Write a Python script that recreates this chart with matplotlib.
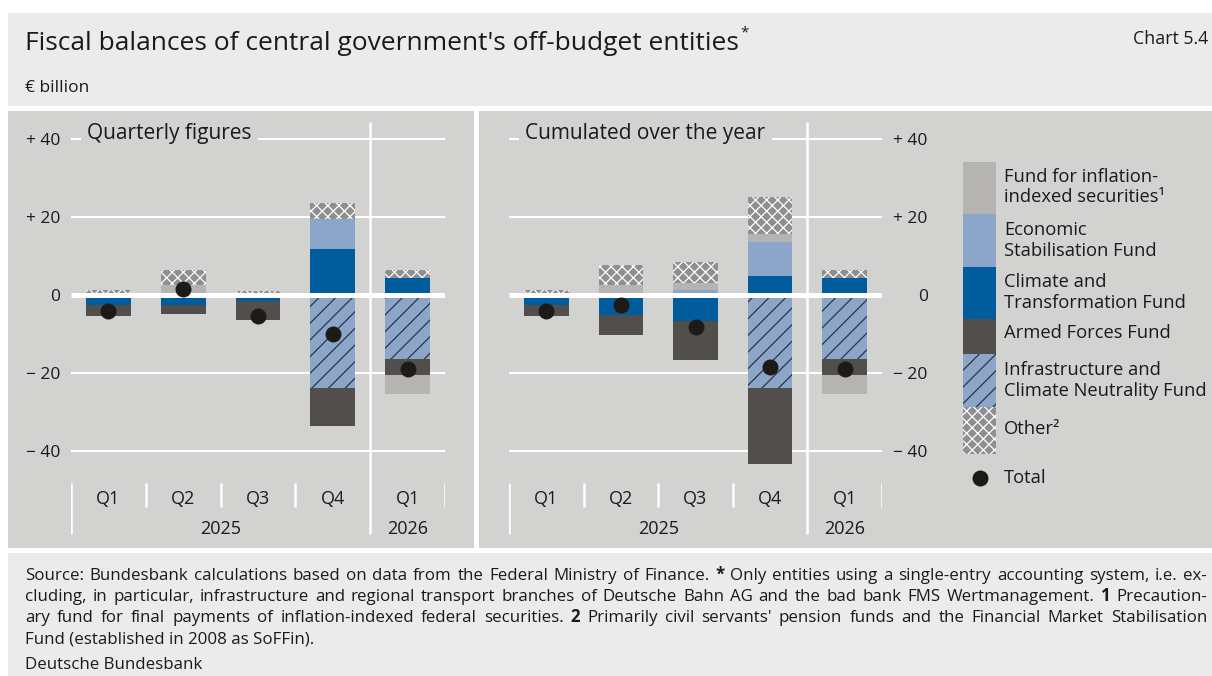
import matplotlib
matplotlib.use("Agg")
import matplotlib.pyplot as plt
from matplotlib.patches import Rectangle
import numpy as np

plt.rcParams['font.family'] = ['Open Sans', 'DejaVu Sans']
plt.rcParams['hatch.linewidth'] = 0.9

# ---------------------------------------------------------------- data
categories = ["Q1", "Q2", "Q3", "Q4", "Q1"]
year_labels = ["2025", "2026"]
year_centres = [1.5, 4.0]

# Quarterly figures (€ billion)
q_inflation = [0.0, 2.5, 0.0, 0.0, -4.9]
q_esf = [0.0, 0.0, 0.0, 7.6, 0.0]
q_ctf = [-2.6, -2.6, -1.6, 11.7, 4.4]
q_armed = [-2.9, -2.3, -5.0, -9.6, -4.1]
q_icnf = [0.0, 0.0, 0.0, -24.0, -16.5]
q_other = [1.2, 3.8, 0.9, 4.1, 1.9]
q_total = [-4.1, 1.5, -5.5, -10.0, -19.1]

# Cumulated over the year (€ billion)
c_inflation = [0.0, 2.5, 1.9, 2.0, -4.9]
c_esf = [0.0, 0.0, 1.2, 8.7, 0.0]
c_ctf = [-2.6, -5.3, -6.8, 4.8, 4.4]
c_armed = [-2.9, -5.0, -10.0, -19.5, -4.1]
c_icnf = [0.0, 0.0, 0.0, -24.0, -16.5]
c_other = [1.3, 5.0, 5.4, 9.5, 1.9]
c_total = [-4.1, -2.7, -8.3, -18.5, -19.1]

y_ticks = [40, 20, 0, -20, -40]
y_tick_labels = ["+ 40", "+ 20", "0", "\u2212 20", "\u2212 40"]

legend_labels = {
    "inflation": "Fund for inflation-\nindexed securities\u00b9",
    "esf": "Economic\nStabilisation Fund",
    "ctf": "Climate and\nTransformation Fund",
    "armed": "Armed Forces Fund",
    "icnf": "Infrastructure and\nClimate Neutrality Fund",
    "other": "Other\u00b2",
}

footer_lines = [
    "Source: Bundesbank calculations based on data from the Federal Ministry of Finance. * Only entities using a single-entry accounting system, i.e. ex-",
    "cluding, in particular, infrastructure and regional transport branches of Deutsche Bahn AG and the bad bank FMS Wertmanagement. 1 Precaution-",
    "ary fund for final payments of inflation-indexed federal securities. 2 Primarily civil servants' pension funds and the Financial Market Stabilisation",
    "Fund (established in 2008 as SoFFin).",
]

# ---------------------------------------------------------------- style
W, H, DPI = 1212, 676, 100
TEXT = "#1a1a1a"
HEADER_BG = "#ebebeb"
PANEL_BG = "#d2d2d1"
DOT = "#1d1a18"

STYLE = {
    "ctf": dict(color="#005c9c"),
    "esf": dict(color="#8ca6c9"),
    "icnf": dict(color="#8ca6c9", hatch="//", edgecolor="#2b3548"),
    "armed": dict(color="#524e4b"),
    "inflation": dict(color="#b5b4b2"),
    "other": dict(color="#8f8f8f", hatch="xxx", edgecolor="white"),
}
STACK_ORDER = ["ctf", "esf", "icnf", "armed", "inflation", "other"]

ZERO_PX, PX_PER_UNIT = 294.7, 3.9   # vertical scale of both panels
TICK_SIZE = 12.5
CAT_SIZE = 13
LEG_SIZE = 13.2


def v(px):
    """value at a given pixel row of the panels"""
    return (ZERO_PX - px) / PX_PER_UNIT


fig = plt.figure(figsize=(W / DPI, H / DPI), dpi=DPI)
fig.patch.set_facecolor("white")

# full-figure canvas in pixel units for backgrounds, text and legend
bg = fig.add_axes([0, 0, 1, 1], zorder=0)
bg.set_xlim(0, W)
bg.set_ylim(H, 0)
bg.axis("off")

for (x0, y0, x1, y1, c) in [(8, 13, W, 106, HEADER_BG),
                            (8, 111, 474, 548, PANEL_BG),
                            (479, 111, W, 548, PANEL_BG),
                            (8, 553, W, H, HEADER_BG)]:
    bg.add_patch(Rectangle((x0, y0), x1 - x0, y1 - y0, facecolor=c,
                           edgecolor="none", zorder=0))


def panel_axes(x0, x1, y0=111, y1=548):
    ax = fig.add_axes([x0 / W, (H - y1) / H, (x1 - x0) / W, (y1 - y0) / H],
                      zorder=1)
    ax.set_facecolor("none")
    ax.set_xlim(-0.5, len(categories) - 0.5)
    ax.set_ylim(v(y1), v(y0))
    for s in ax.spines.values():
        s.set_visible(False)
    ax.set_xticks([])
    return ax


def draw_panel(ax, series, total, title, right=False):
    n = len(categories)
    x = np.arange(n)
    pos = np.zeros(n)
    neg = np.zeros(n)
    for key in STACK_ORDER:
        vals = np.asarray(series[key], dtype=float)
        bottom = np.where(vals > 0, pos, neg)
        ax.bar(x, vals, width=0.6, bottom=bottom, linewidth=0, zorder=2,
               **STYLE[key])
        pos += np.where(vals > 0, vals, 0)
        neg += np.where(vals < 0, vals, 0)

    # grid
    ax.hlines([t for t in y_ticks if t != 0], -0.5, n - 0.5, color="white",
              lw=1.5, zorder=1)
    ax.hlines(0, -0.5, n - 0.5, color="white", lw=3.6, zorder=3)
    ax.vlines(3.5, v(122), v(534), color="white", lw=1.8, zorder=3)
    ax.vlines([-0.5], v(483), v(534), color="white", lw=1.8, zorder=3)
    ax.vlines([0.5, 1.5, 2.5, n - 0.5], v(483), v(507), color="white",
              lw=1.8, zorder=3)

    ax.plot(x, total, "o", ms=11.5, color=DOT, mec="none", zorder=4)

    for i, c in enumerate(categories):
        ax.text(i, v(499), c, ha="center", va="center", fontsize=CAT_SIZE,
                color=TEXT)
    for yl, xc in zip(year_labels, year_centres):
        ax.text(xc, v(529), yl, ha="center", va="center", fontsize=CAT_SIZE,
                color=TEXT)

    ax.set_yticks(y_ticks, y_tick_labels)
    if right:
        ax.yaxis.tick_right()
        ax.tick_params(axis="y", length=0, pad=33, labelsize=TICK_SIZE,
                       labelcolor=TEXT)
        for t in ax.get_yticklabels():
            t.set_horizontalalignment("right")
    else:
        ax.tick_params(axis="y", length=0, pad=8, labelsize=TICK_SIZE,
                       labelcolor=TEXT)

    ax.text(-0.28, v(133), title, ha="left", va="center", fontsize=15,
            color=TEXT, zorder=5,
            bbox=dict(facecolor=PANEL_BG, edgecolor="none", pad=4.5))


ax_q = panel_axes(71, 445)
draw_panel(ax_q, dict(ctf=q_ctf, esf=q_esf, icnf=q_icnf, armed=q_armed,
                      inflation=q_inflation, other=q_other),
           q_total, "Quarterly figures")

ax_c = panel_axes(509, 882)
draw_panel(ax_c, dict(ctf=c_ctf, esf=c_esf, icnf=c_icnf, armed=c_armed,
                      inflation=c_inflation, other=c_other),
           c_total, "Cumulated over the year", right=True)

# ---------------------------------------------------------------- legend
legend_blocks = [("inflation", 162, 214, 187), ("esf", 214, 267, 240.5),
                 ("ctf", 267, 319, 292.5), ("armed", 319, 354, 333),
                 ("icnf", 354, 407, 380.5), ("other", 407, 454, 429)]
for key, y0, y1, yt in legend_blocks:
    st = dict(STYLE[key])
    fc = st.pop("color")
    bg.add_patch(Rectangle((963, y0), 33, y1 - y0, facecolor=fc,
                           linewidth=0, zorder=2, **st))
    bg.text(1004, yt, legend_labels[key], ha="left", va="center",
            fontsize=LEG_SIZE, color=TEXT, linespacing=1.18)
bg.plot([980], [478], "o", ms=11.5, color=DOT, mec="none")
bg.text(1004, 478, "Total", ha="left", va="center", fontsize=LEG_SIZE,
        color=TEXT)

# ---------------------------------------------------------------- header
renderer = fig.canvas.get_renderer()
title = bg.text(25, 50, "Fiscal balances of central government's off-budget entities",
                ha="left", va="baseline", fontsize=19, color=TEXT)
tx1 = title.get_window_extent(renderer).x1
bg.text(tx1 + 1, 36, "*", ha="left", va="baseline", fontsize=11,
        color=TEXT)
bg.text(1208, 44, "Chart 5.4", ha="right", va="baseline", fontsize=12.8,
        color=TEXT)
bg.text(25, 92, "\u20ac billion", ha="left", va="baseline", fontsize=12.5,
        color=TEXT)

# ---------------------------------------------------------------- footer
FOOT_SIZE = 12.2
FOOT_X0, FOOT_X1 = 25, 1207
foot_baselines = [580, 601, 622, 643]
for i, (line, yb) in enumerate(zip(footer_lines, foot_baselines)):
    last = i == len(footer_lines) - 1
    if last:
        bg.text(FOOT_X0, yb, line, ha="left", va="baseline",
                fontsize=FOOT_SIZE, color=TEXT)
        continue
    words = line.split(" ")
    arts = [bg.text(0, yb, w, ha="left", va="baseline", fontsize=FOOT_SIZE,
                    color=TEXT,
                    fontweight="bold" if w in ("*", "1", "2") else "normal")
            for w in words]
    widths = [a.get_window_extent(renderer).width for a in arts]
    gap = (FOOT_X1 - FOOT_X0 - sum(widths)) / (len(words) - 1)
    x = FOOT_X0
    for a, w in zip(arts, widths):
        a.set_x(x)
        x += w + gap
bg.text(FOOT_X0, 669, "Deutsche Bundesbank", ha="left", va="baseline",
        fontsize=FOOT_SIZE, color=TEXT)

fig.savefig("out.png", dpi=DPI, facecolor=fig.get_facecolor())
